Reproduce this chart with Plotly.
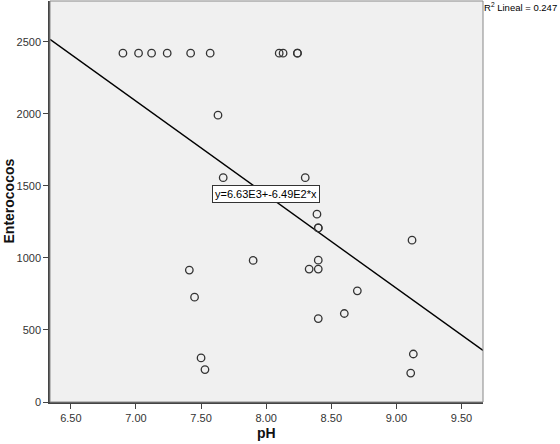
import plotly.graph_objects as go

# Data
ph = [6.90, 7.02, 7.12, 7.24, 7.42, 7.57, 8.10, 8.13, 8.24, 8.24,
      7.63, 7.67, 8.30, 8.39, 8.40, 8.40, 9.12, 8.40, 8.33, 8.40,
      8.70, 8.60, 8.40, 9.13, 9.11, 7.41, 7.45, 7.50, 7.53, 7.90]
enterococos = [2420, 2420, 2420, 2420, 2420, 2420, 2420, 2420, 2420, 2420,
               1990, 1556, 1556, 1303, 1208, 1208, 1123, 984, 922, 922,
               771, 614, 579, 333, 201, 915, 727, 306, 225, 982]

intercept = 6630.0
slope = -649.0
x_range = [6.34, 9.665]
y_range = [0, 2782]
x_ticks = [6.5, 7.0, 7.5, 8.0, 8.5, 9.0, 9.5]
y_ticks = [0, 500, 1000, 1500, 2000, 2500]

font_family = "Liberation Sans, Arial, sans-serif"

fig = go.Figure()
fig.add_trace(go.Scatter(
    x=x_range,
    y=[intercept + slope * v for v in x_range],
    mode="lines",
    line=dict(color="#000000", width=1.4),
    hoverinfo="skip",
    showlegend=False,
))
fig.add_trace(go.Scatter(
    x=ph, y=enterococos, mode="markers",
    marker=dict(symbol="circle-open", size=7.5, color="#333333",
                line=dict(width=1.3, color="#333333")),
    showlegend=False,
))

fig.add_annotation(
    x=8.0, y=1442, xref="x", yref="y",
    text="y=6.63E3+-6.49E2*x", showarrow=False,
    font=dict(family=font_family, size=11, color="#000000"),
    bgcolor="#FFFFFF", bordercolor="#333333", borderwidth=1, borderpad=2,
)
fig.add_annotation(
    x=1.0, y=1.0, xref="paper", yref="paper", xanchor="left", yanchor="top",
    text="R<sup>2</sup> Lineal = 0.247", showarrow=False,
    font=dict(family=font_family, size=9.5, color="#000000"),
    xshift=-1, yshift=2,
)
# Axis titles
fig.add_annotation(
    x=0.5, y=0, xref="paper", yref="paper", xanchor="center", yanchor="middle",
    text="<b>pH</b>", showarrow=False, yshift=-31,
    font=dict(family=font_family, size=14, color="#111111"),
)
fig.add_annotation(
    x=0, y=0.5, xref="paper", yref="paper", xanchor="center", yanchor="middle",
    text="<b>Enterococos</b>", showarrow=False, textangle=-90, xshift=-42,
    font=dict(family=font_family, size=14, color="#111111"),
)

fig.update_layout(
    width=560, height=444,
    margin=dict(l=50, r=77, t=1, b=42, autoexpand=False),
    paper_bgcolor="#FFFFFF",
    plot_bgcolor="#F0F0F0",
    font=dict(family=font_family, size=11, color="#333333"),
    xaxis=dict(
        range=x_range, tickvals=x_ticks, tickformat=".2f",
        ticks="outside", ticklen=5, tickcolor="#444444",
        showgrid=False, zeroline=False, automargin=False,
        showline=True, linecolor="#444444", linewidth=1.5, mirror=False,
    ),
    yaxis=dict(
        range=y_range, tickvals=y_ticks,
        ticks="outside", ticklen=5, tickcolor="#444444",
        showgrid=False, zeroline=False, automargin=False,
        showline=True, linecolor="#444444", linewidth=1.5, mirror=False,
    ),
)
fig.add_shape(type="rect", xref="paper", yref="paper", x0=0, y0=0, x1=1, y1=1,
              line=dict(color="#888888", width=1), layer="above")

fig.write_html("out.html", config={"displayModeBar": False},
               post_script="document.body.style.margin='0';document.body.style.overflow='hidden';")
